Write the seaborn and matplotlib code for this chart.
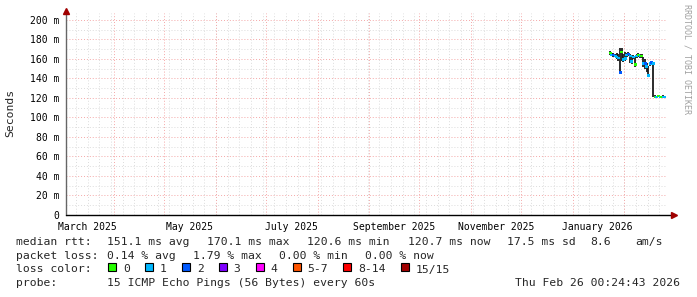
import numpy as np
import pandas as pd
import matplotlib
matplotlib.use("Agg")
import matplotlib.pyplot as plt
import matplotlib.dates as mdates
from matplotlib.ticker import FuncFormatter, NullFormatter, FixedLocator
from matplotlib.patches import Rectangle
import seaborn as sns

# ---------------- data ----------------
start_day = "2026-01-23"
median_ms = [166, 164, 164, 163, 162, 161, 146, 167, 159,
             160, 164, 165, 163, 157, 162, 154, 163, 164, 163, 163, 155, 155, 152, 143, 155, 156, 155,
             121, 121, 122, 121, 121, 121, 121]
smoke_lo_ms = [164, 163, 162, 162, 160, 158, 145, 158, 157,
               158, 162, 163, 156, 155, 160, 152, 161, 162, 161, 161, 152, 150, 147, 141, 153, 154, 121,
               120, 120, 121, 120, 120, 120, 120]
smoke_hi_ms = [168, 166, 166, 165, 166, 165, 171, 171, 165,
               167, 166, 167, 165, 163, 164, 163, 165, 166, 165, 165, 162, 160, 156, 153, 157, 158, 156,
               123, 122, 123, 122, 122, 123, 122]
loss_count = [0, 1, 2, 1, 1, 1, 2, 0, 1,
              1, 1, 2, 1, 1, 1, 0, 1, 0, 1, 0, 1, 2, 1, 1, 1, 2, 1,
              0, 1, 0, 1, 0, 1, 1]
loss_labels = ["0", "1", "2", "3", "4", "5-7", "8-14", "15/15"]
loss_colors = ["#26ff00", "#00b8ff", "#0059ff", "#7e00ff", "#ff00ff", "#ff5500", "#ff0000", "#a10000"]
y_ticks = [0, 20, 40, 60, 80, 100, 120, 140, 160, 180, 200]
now_str = "2026-02-26 00:24:43"
window_days = 360

rtt_stats = [("median rtt:", 16), ("151.1 ms avg", 107), ("170.1 ms max", 207), ("120.6 ms min", 307),
             ("120.7 ms now", 408), ("17.5 ms sd", 507), ("8.6", 590), ("am/s", 635)]
loss_stats = [("packet loss:", 16), ("0.14 % avg", 107), ("1.79 % max", 193), ("0.00 % min", 279),
              ("0.00 % now", 365)]
probe_text = "15 ICMP Echo Pings (56 Bytes) every 60s"
stamp_text = "Thu Feb 26 00:24:43 2026"

# ---------------- frame ----------------
sns.set_style("white")
plt.rcParams['font.family'] = ['DejaVu Sans Mono']

W, H = 697, 297
fig = plt.figure(figsize=(W / 100, H / 100), dpi=100)
fig.patch.set_facecolor("white")
ax = fig.add_axes([66 / W, (H - 215) / H, 600 / W, 202 / H])

now = pd.Timestamp(now_str)
left = now - pd.Timedelta(days=window_days)
x0, x1 = mdates.date2num(left), mdates.date2num(now)
ax.set_xlim(x0, x1)
ax.set_ylim(0, 207)

# grid
grid_minor = "#dcdcdc"
grid_major = "#f4a8a8"
dot = (0, (1, 2))
for v in np.arange(10, 207, 10):
    major = (v % 20 == 0)
    ax.axhline(v, color=grid_major if major else grid_minor, lw=0.7, ls=dot, zorder=0)
for d in pd.date_range(left.normalize(), now, freq="W-SUN"):
    ax.axvline(mdates.date2num(d), color=grid_minor, lw=0.7, ls=dot, zorder=0)
month_starts = pd.date_range(left.normalize(), now, freq="MS")
for d in month_starts:
    ax.axvline(mdates.date2num(d), color=grid_major, lw=0.7, ls=dot, zorder=0)

# data
dates = pd.date_range(start_day, periods=len(median_ms), freq="D") + pd.Timedelta(hours=12)
df = pd.DataFrame({"date": mdates.date2num(dates), "median": median_ms,
                   "lo": smoke_lo_ms, "hi": smoke_hi_ms,
                   "loss": [loss_labels[i] for i in loss_count]})
ax.vlines(df["date"], df["lo"], df["hi"], color="#1a1a1a", lw=1.3, zorder=2)
sns.scatterplot(data=df, x="date", y="median", hue="loss",
                palette=dict(zip(loss_labels, loss_colors)), marker="s", s=4,
                linewidth=0, legend=False, ax=ax, zorder=3)
ax.set_xlabel("")
ax.set_ylabel("")

# axes
for s in ["top", "right"]:
    ax.spines[s].set_visible(False)
ax.spines["left"].set_color("#666666")
ax.spines["left"].set_linewidth(1.0)
ax.spines["bottom"].set_visible(False)
ax.plot([0, 1.012], [0, 0], color="black", lw=1.0, transform=ax.transAxes, clip_on=False, zorder=4)
ax.plot([1.014], [0], marker=">", color="#a00000", markersize=4, transform=ax.transAxes,
        clip_on=False, zorder=5)
ax.plot([0], [1.01], marker="^", color="#a00000", markersize=4, transform=ax.transAxes,
        clip_on=False, zorder=5)

ax.yaxis.set_major_locator(FixedLocator(y_ticks))
ax.yaxis.set_major_formatter(FuncFormatter(lambda v, p: "0" if v == 0 else f"{int(v)} m"))
ax.tick_params(axis="y", which="major", length=2, width=0.8, color="#666666", pad=3,
               labelsize=7, labelcolor="black")

ax.xaxis.set_major_locator(FixedLocator(mdates.date2num(month_starts)))
ax.xaxis.set_major_formatter(NullFormatter())
all_months = pd.date_range(left.normalize() - pd.Timedelta(days=31), now, freq="MS")
label_pos = [mdates.date2num(d + pd.Timedelta(days=15)) for d in all_months if d.month % 2 == 1]
label_pos = [v for v in label_pos if x0 <= v <= x1]
ax.xaxis.set_minor_locator(FixedLocator(label_pos))
ax.xaxis.set_minor_formatter(FuncFormatter(lambda v, p: mdates.num2date(v).strftime("%B %Y")))
ax.tick_params(axis="x", which="major", length=2, width=0.8, color="#f2a0a0")
ax.tick_params(axis="x", which="minor", length=0, pad=5, labelsize=7, labelcolor="black")

# side texts
fig.text(10 / W, 1 - 113 / H, "Seconds", rotation=90, ha="center", va="center", fontsize=8.2)
fig.text(687 / W, 1 - 4 / H, "RRDTOOL / TOBI OETIKER", rotation=270, ha="center", va="top",
         fontsize=6, color="#a0a0a0")


def ftxt(x, y, s, **kw):
    fig.text(x / W, 1 - y / H, s, va="baseline", fontsize=8.2, **kw)


for s, x in rtt_stats:
    ftxt(x, 245, s)
for s, x in loss_stats:
    ftxt(x, 259, s)
ftxt(16, 272.5, "loss color:")
x = 108
for lab, col in zip(loss_labels, loss_colors):
    fig.add_artist(Rectangle((x / W, 1 - 271 / H), 8 / W, 8 / H, transform=fig.transFigure,
                             facecolor=col, edgecolor="black", lw=0.8))
    ftxt(x + 15, 272.5, lab)
    x += 30 + 6.9 * len(lab)
ftxt(16, 286, "probe:")
ftxt(107, 286, probe_text)
ftxt(680, 286, stamp_text, ha="right")

fig.savefig("out.png", dpi=100, facecolor="white")
